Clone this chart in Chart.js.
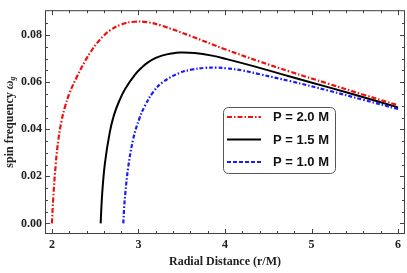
<!DOCTYPE html>
<html>
<head>
<meta charset="utf-8">
<script src="https://cdn.jsdelivr.net/npm/chart.js@4.4.0/dist/chart.umd.min.js"></script>
<style>
  html, body { margin: 0; padding: 0; background: #fff; }
  #wrap { width: 407px; height: 273px; position: relative; }
</style>
</head>
<body>
<div id="wrap"><canvas id="chart"></canvas></div>
<script>
// values
const seriesLabels = ["P = 2.0 M", "P = 1.5 M", "P = 1.0 M"];

const radiusP20 = [2.000, 2.015, 2.045, 2.075, 2.11, 2.15, 2.205, 2.29, 2.385, 2.45, 2.52, 2.60, 2.67, 2.80, 2.95, 3.10, 3.27, 3.6, 4.0, 4.4, 4.75, 5.2, 5.6, 6.0];
const omegaP20 = [0, 0.0106, 0.0256, 0.0357, 0.0434, 0.0494, 0.0555, 0.0624, 0.0691, 0.0730, 0.0766, 0.0798, 0.0820, 0.0845, 0.0857, 0.0855, 0.0840, 0.0797, 0.0740, 0.0688, 0.0645, 0.0593, 0.0547, 0.0502];

const radiusP15 = [2.563, 2.58, 2.613, 2.67, 2.717, 2.775, 2.844, 2.96, 3.04, 3.11, 3.20, 3.28, 3.38, 3.48, 3.65, 3.85, 4.02, 4.4, 4.75, 5.2, 5.6, 6.0];
const omegaP15 = [0, 0.0122, 0.0257, 0.0390, 0.0460, 0.0518, 0.0570, 0.0632, 0.0663, 0.0684, 0.0703, 0.0714, 0.0722, 0.0726, 0.0724, 0.0713, 0.0698, 0.0661, 0.0624, 0.0578, 0.0536, 0.0493];

const radiusP10 = [2.825, 2.835, 2.85, 2.88, 2.94, 3.01, 3.075, 3.17, 3.28, 3.48, 3.62, 3.77, 3.9, 4.02, 4.2, 4.4, 4.75, 5.2, 5.6, 6.0];
const omegaP10 = [0, 0.0070, 0.0135, 0.0235, 0.0360, 0.0445, 0.0500, 0.0558, 0.0600, 0.0640, 0.0654, 0.0661, 0.0662, 0.0659, 0.0650, 0.0634, 0.0605, 0.0564, 0.0525, 0.0486];

const xTicks = [2, 3, 4, 5, 6];
const yTicks = [0, 0.02, 0.04, 0.06, 0.08];

function toPoints(xs, ys) {
    return xs.map((x, i) => ({ x: x, y: ys[i] }));
}

const frameColor = "#404040";

// frame with inward ticks, axis titles and the boxed legend
const decorPlugin = {
    id: "decor",
    afterDraw(chart) {
        const ctx = chart.ctx;
        const a = chart.chartArea;
        const xs = chart.scales.x;
        const ys = chart.scales.y;
        ctx.save();
        ctx.strokeStyle = frameColor;
        ctx.lineWidth = 1;
        ctx.strokeRect(a.left + 0.5, a.top + 0.5, a.right - a.left - 1, a.bottom - a.top - 1);

        ctx.beginPath();
        for (let v = 2; v <= 6.0001; v += 0.2) {
            const px = Math.round(xs.getPixelForValue(v)) + 0.5;
            const major = Math.abs(v - Math.round(v)) < 1e-6;
            const len = major ? 5 : 3;
            ctx.moveTo(px, a.bottom); ctx.lineTo(px, a.bottom - len);
            ctx.moveTo(px, a.top); ctx.lineTo(px, a.top + len);
        }
        for (let v = 0; v <= 0.09; v += 0.005) {
            const py = Math.round(ys.getPixelForValue(v)) + 0.5;
            const major = Math.abs(v / 0.02 - Math.round(v / 0.02)) < 1e-6;
            const len = major ? 5 : 3;
            ctx.moveTo(a.left, py); ctx.lineTo(a.left + len, py);
            ctx.moveTo(a.right, py); ctx.lineTo(a.right - len, py);
        }
        ctx.stroke();

        // x title
        ctx.fillStyle = "#222";
        ctx.font = "bold 12px 'Liberation Serif'";
        ctx.textAlign = "center";
        ctx.textBaseline = "middle";
        ctx.fillText("Radial Distance (r/M)", (a.left + a.right) / 2, 262);

        // y title with omega_g
        ctx.translate(10, (a.top + a.bottom) / 2);
        ctx.rotate(-Math.PI / 2);
        ctx.textAlign = "left";
        const main = "spin frequency ";
        const fMain = "bold 12px 'Liberation Serif'";
        const fOm = "italic bold 12px 'Liberation Serif'";
        const fSub = "italic bold 8px 'Liberation Serif'";
        ctx.font = fMain; const w1 = ctx.measureText(main).width;
        ctx.font = fOm; const w2 = ctx.measureText("ω").width;
        ctx.font = fSub; const w3 = ctx.measureText("g").width;
        let x0 = -(w1 + w2 + w3) / 2;
        ctx.font = fMain; ctx.fillText(main, x0, 0);
        ctx.font = fOm; ctx.fillText("ω", x0 + w1, 0);
        ctx.font = fSub; ctx.fillText("g", x0 + w1 + w2, 3);
        ctx.setTransform(1, 0, 0, 1, 0, 0);

        // legend
        const bx = 223, by = 107, bw = 112, bh = 66;
        ctx.beginPath();
        ctx.roundRect(bx + 0.5, by + 0.5, bw, bh, 5);
        ctx.fillStyle = "#fff";
        ctx.fill();
        ctx.strokeStyle = "#555";
        ctx.lineWidth = 1;
        ctx.stroke();
        chart.data.datasets.forEach((ds, i) => {
            const ly = by + 10 + i * 22.5;
            ctx.beginPath();
            ctx.setLineDash(ds.legendDash);
            ctx.strokeStyle = ds.borderColor;
            ctx.lineWidth = 2;
            ctx.moveTo(bx + 4, ly);
            ctx.lineTo(bx + 38, ly);
            ctx.stroke();
            ctx.setLineDash([]);
            ctx.fillStyle = "#111";
            ctx.font = "bold 13px 'Liberation Sans'";
            ctx.textAlign = "left";
            ctx.textBaseline = "middle";
            ctx.fillText(ds.label, bx + 50, ly + 0.5);
        });
        ctx.restore();
    }
};

new Chart(document.getElementById("chart"), {
    type: "line",
    data: {
        datasets: [
            {
                label: seriesLabels[0],
                data: toPoints(radiusP20, omegaP20),
                borderColor: "#ee1111",
                borderWidth: 2.2,
                borderDash: [5, 2, 1.5, 2],
                legendDash: [5, 2, 1.5, 2]
            },
            {
                label: seriesLabels[1],
                data: toPoints(radiusP15, omegaP15),
                borderColor: "#000000",
                borderWidth: 2,
                borderDash: [],
                legendDash: []
            },
            {
                label: seriesLabels[2],
                data: toPoints(radiusP10, omegaP10),
                borderColor: "#1a1aff",
                borderWidth: 2.2,
                borderDash: [4, 2, 1.5, 2],
                legendDash: [4, 2]
            }
        ]
    },
    options: {
        responsive: true,
        maintainAspectRatio: false,
        animation: false,
        layout: { padding: { left: 0, right: 2, top: 1, bottom: 0 } },
        elements: {
            point: { radius: 0 },
            line: { tension: 0.4, fill: false }
        },
        plugins: {
            legend: { display: false },
            tooltip: { enabled: false }
        },
        scales: {
            x: {
                type: "linear",
                min: 1.92,
                max: 6.08,
                grid: { display: false, drawTicks: false },
                border: { display: false },
                afterBuildTicks: s => { s.ticks = xTicks.map(v => ({ value: v })); },
                afterFit: s => { s.height = 39; },
                ticks: {
                    padding: 4,
                    color: "#222",
                    font: { family: "Liberation Serif", weight: "bold", size: 12 },
                    callback: v => String(v)
                }
            },
            y: {
                type: "linear",
                min: -0.0045,
                max: 0.0906,
                grid: { display: false, drawTicks: false },
                border: { display: false },
                afterBuildTicks: s => { s.ticks = yTicks.map(v => ({ value: v })); },
                afterFit: s => { s.width = 45; },
                ticks: {
                    padding: 3,
                    color: "#222",
                    font: { family: "Liberation Serif", weight: "bold", size: 12 },
                    callback: v => v.toFixed(2)
                }
            }
        }
    },
    plugins: [decorPlugin]
});
</script>
</body>
</html>
